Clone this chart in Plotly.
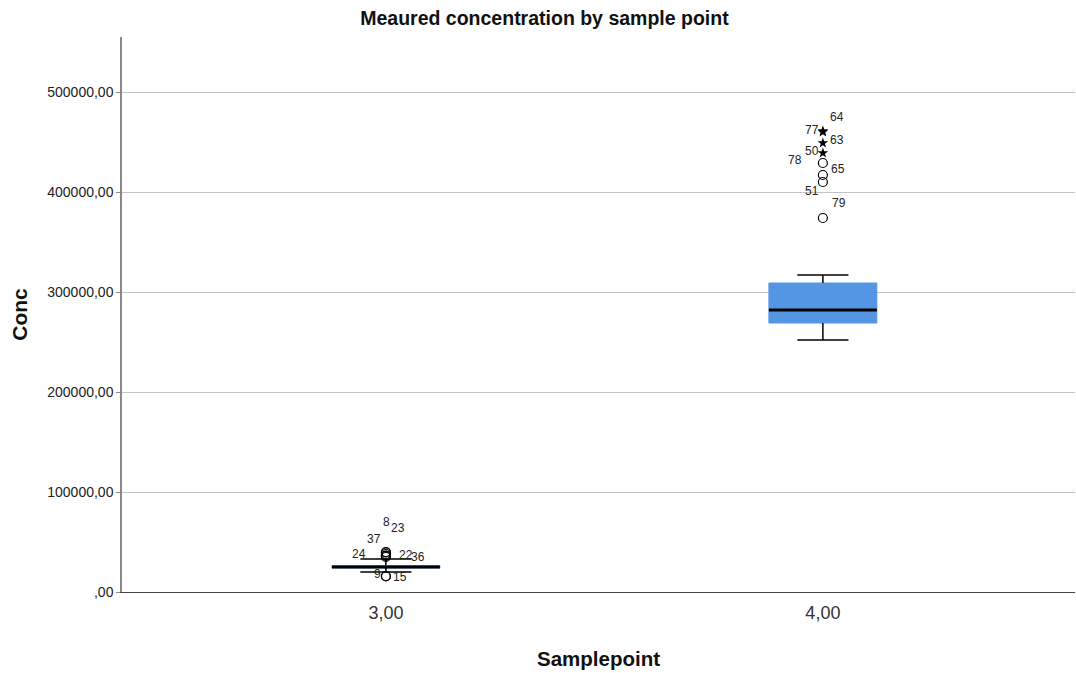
import plotly.graph_objects as go

# ---- data ----
samplepoints = [3, 4]
x_labels = ["3,00", "4,00"]
q1 = [24000, 269000]
median = [25000, 282000]
q3 = [26500, 309000]
lower_whisker = [20000, 252000]
upper_whisker = [33000, 317000]

# outliers (circles)
out_x = [3, 3, 3, 3, 3, 3, 3, 3, 4, 4, 4, 4]
out_y = [40000, 39500, 38000, 36500, 36000, 35000, 16000, 15500, 429000, 417000, 410000, 374000]
out_id = ["8", "23", "37", "24", "22", "36", "9", "15", "78", "65", "51", "79"]
out_dx = [1, 12, -12, -27, 20, 32, -8, 14, -28, 15, -11, 16]
out_dy = [30, 25, 15, 2, 1, 0, 2, 0, 3, 6, -9, 15]

# extreme outliers (stars)
ext_x = [4, 4, 4, 4]
ext_y = [461000, 460000, 449000, 439000]
ext_id = ["64", "77", "63", "50"]
ext_dx = [14, -11, 14, -11]
ext_dy = [14, 2, 3, 2]

y_ticks = [0, 100000, 200000, 300000, 400000, 500000]
y_ticklabels = [",00", "100000,00", "200000,00", "300000,00", "400000,00", "500000,00"]

BOX_W = 0.247
CAP_W = 0.117
BLUE = "#5596E4"
FONT = "Liberation Sans, Arial, sans-serif"

fig = go.Figure()

# whiskers + caps
wx, wy = [], []
for i, xv in enumerate(samplepoints):
    wx += [xv, xv, None, xv, xv, None]
    wy += [q3[i], upper_whisker[i], None, q1[i], lower_whisker[i], None]
    for yv in (upper_whisker[i], lower_whisker[i]):
        wx += [xv - CAP_W / 2, xv + CAP_W / 2, None]
        wy += [yv, yv, None]
fig.add_trace(go.Scatter(x=wx, y=wy, mode="lines", line=dict(color="black", width=1.5),
                         hoverinfo="skip", showlegend=False))

# boxes
fig.add_trace(go.Box(x=samplepoints, q1=q1, median=median, q3=q3,
                     lowerfence=q1, upperfence=q3, width=BOX_W,
                     fillcolor=BLUE, line=dict(color=BLUE, width=1),
                     whiskerwidth=0, boxpoints=False, showlegend=False))

# median lines
mx, my = [], []
for i, xv in enumerate(samplepoints):
    mx += [xv - BOX_W / 2, xv + BOX_W / 2, None]
    my += [median[i], median[i], None]
fig.add_trace(go.Scatter(x=mx, y=my, mode="lines", line=dict(color="black", width=3),
                         hoverinfo="skip", showlegend=False))

# outliers
fig.add_trace(go.Scatter(x=out_x, y=out_y, mode="markers",
                         marker=dict(symbol="circle-open", size=9, color="black",
                                     line=dict(width=1.2, color="black")),
                         showlegend=False))
fig.add_trace(go.Scatter(x=ext_x, y=ext_y, mode="markers",
                         marker=dict(symbol="star", size=8, color="black"),
                         showlegend=False))

for xs, ys, ids, dxs, dys in [(out_x, out_y, out_id, out_dx, out_dy),
                              (ext_x, ext_y, ext_id, ext_dx, ext_dy)]:
    for xv, yv, t, dx, dy in zip(xs, ys, ids, dxs, dys):
        fig.add_annotation(x=xv, y=yv, text=t, showarrow=False,
                           xshift=dx, yshift=dy,
                           font=dict(family=FONT, size=12, color="#222"))

fig.update_layout(
    width=1076, height=673,
    margin=dict(l=122, r=1, t=37, b=81),
    plot_bgcolor="white", paper_bgcolor="white",
    font=dict(family=FONT, color="#222"),
    title=dict(text="<b>Meaured concentration by sample point</b>",
               x=0.506, xanchor="center", y=0.973, yanchor="middle",
               font=dict(size=19.5, color="#111")),
    xaxis=dict(range=[2.396, 4.577], tickvals=samplepoints, ticktext=x_labels,
               showgrid=False, zeroline=False, showline=True, linecolor="#444", linewidth=1,
               ticks="", tickfont=dict(size=18, color="#333"), ticklabelstandoff=4,
               title=dict(text="<b>Samplepoint</b>", font=dict(size=20.5, color="#111"), standoff=30)),
    yaxis=dict(range=[0, 555000], tickvals=y_ticks, ticktext=y_ticklabels,
               showgrid=True, gridcolor="#c4c4c4", gridwidth=1, zeroline=False,
               showline=True, linecolor="#888", linewidth=1.5,
               ticks="outside", ticklen=4, tickcolor="#888",
               tickfont=dict(size=14, color="#222"),
               title=dict(text="<b>Conc</b>", font=dict(size=21, color="#111"), standoff=14)),
)

post = ("document.body.style.margin='0';document.body.style.overflow='hidden';"
        "var gd=document.getElementById('{plot_id}');"
        "Plotly.relayout(gd,{width:1076,height:673});")
fig.write_html("out.html", config={"responsive": False, "displayModeBar": False}, post_script=post)
